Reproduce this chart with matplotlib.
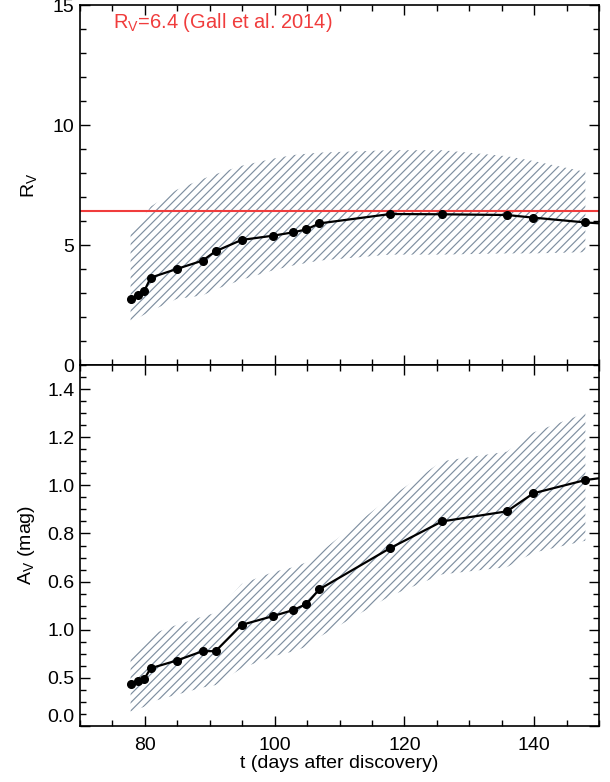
import numpy as np
import matplotlib
matplotlib.use("Agg")
import matplotlib.pyplot as plt
from matplotlib.ticker import MultipleLocator
from matplotlib.transforms import ScaledTranslation

plt.rcParams['font.family'] = ['Liberation Sans', 'DejaVu Sans']
plt.rcParams['mathtext.fontset'] = 'custom'
plt.rcParams['mathtext.rm'] = 'Liberation Sans'
plt.rcParams['hatch.linewidth'] = 0.85
plt.rcParams['hatch.color'] = '#7f8fa0'

# days after discovery
t = [77.8, 78.9, 79.9, 80.9, 84.9, 88.9, 90.9, 94.9, 99.8, 102.9, 104.9,
     106.9, 117.8, 125.8, 135.8, 139.9, 147.9, 153.0]

# R_V and its band
rv = [2.75, 2.92, 3.08, 3.64, 4.00, 4.35, 4.74, 5.21, 5.39, 5.53, 5.65,
      5.90, 6.29, 6.28, 6.25, 6.14, 5.94, 5.85]
rv_hi = [5.6, 5.95, 6.2, 6.6, 7.3, 7.75, 7.95, 8.3, 8.6, 8.75, 8.8,
         8.85, 8.95, 8.95, 8.7, 8.5, 8.05]
rv_lo = [1.85, 1.95, 2.1, 2.25, 2.75, 2.9, 3.15, 3.55, 3.95, 4.15, 4.25,
         4.35, 4.6, 4.6, 4.65, 4.65, 4.7]

# A_V and its band
av = [0.174, 0.185, 0.195, 0.240, 0.272, 0.311, 0.311, 0.420, 0.457, 0.482,
      0.507, 0.568, 0.739, 0.850, 0.892, 0.967, 1.022, 1.04]
av_hi = [0.275, 0.31, 0.34, 0.38, 0.42, 0.455, 0.47, 0.59, 0.64, 0.66, 0.68,
         0.72, 0.95, 1.10, 1.14, 1.22, 1.30]
av_lo = [0.06, 0.07, 0.08, 0.10, 0.13, 0.16, 0.17, 0.24, 0.29, 0.31, 0.33,
         0.37, 0.54, 0.63, 0.66, 0.72, 0.77]

rv_gall = 6.4
av_ticks = [0.0, 0.2, 0.4, 0.6, 0.8, 1.0, 1.2, 1.4]
av_ticklabels = ['0.0', '0.5', '1.0', '0.6', '0.8', '1.0', '1.2', '1.4']

hatch_col = '#7f8fa0'
red = '#f03c3c'
nb = len(rv_hi)

fig = plt.figure(figsize=(6.10, 7.82), dpi=100)
ax1 = fig.add_axes([80/610, 417/782, 519/610, 360/782])
ax2 = fig.add_axes([80/610, 56/782, 519/610, 361/782])

for ax in (ax1, ax2):
    ax.set_xlim(70, 150)
    ax.xaxis.set_major_locator(MultipleLocator(20))
    ax.xaxis.set_minor_locator(MultipleLocator(5))
    ax.tick_params(which='both', direction='in', top=True, right=True,
                   width=1.0, labelsize=14)
    ax.tick_params(which='major', length=7)
    ax.tick_params(which='minor', length=4)
    ax.tick_params(axis='y', pad=4)
    ax.tick_params(axis='x', pad=8)
    for s in ax.spines.values():
        s.set_linewidth(1.2)

# top panel
ax1.fill_between(t[:nb], rv_lo, rv_hi, facecolor='none', edgecolor=hatch_col,
                 hatch='////', linewidth=0)
ax1.axhline(rv_gall, color=red, lw=1.5)
ax1.plot(t, rv, color='black', lw=1.6, marker='o', ms=5.5, clip_on=True)
ax1.set_ylim(0, 15)
ax1.yaxis.set_major_locator(MultipleLocator(5))
ax1.yaxis.set_minor_locator(MultipleLocator(1))
ax1.tick_params(labelbottom=False)
ax1.set_ylabel(r'R$_\mathregular{V}$', fontsize=14, labelpad=9)
ax1.text(0.064, 0.936, r'R$_\mathregular{V}$=6.4 (Gall et al. 2014)',
         color=red, fontsize=14.5, transform=ax1.transAxes, va='baseline')

# bottom panel
ax2.fill_between(t[:nb], av_lo, av_hi, facecolor='none', edgecolor=hatch_col,
                 hatch='////', linewidth=0)
ax2.plot(t, av, color='black', lw=1.6, marker='o', ms=5.5, clip_on=True)
ax2.set_ylim(0, 1.5)
ax2.set_yticks(av_ticks)
ax2.set_yticklabels(av_ticklabels)
ax2.yaxis.set_minor_locator(MultipleLocator(0.05))
ax2.set_ylabel(r'A$_\mathregular{V}$ (mag)', fontsize=14, labelpad=7)
ax2.set_xlabel('t (days after discovery)', fontsize=14, labelpad=1)

lbl = ax2.get_yticklabels()[0]
lbl.set_transform(lbl.get_transform() +
                  ScaledTranslation(0, 10/100, fig.dpi_scale_trans))

fig.savefig('out.png', dpi=100)
